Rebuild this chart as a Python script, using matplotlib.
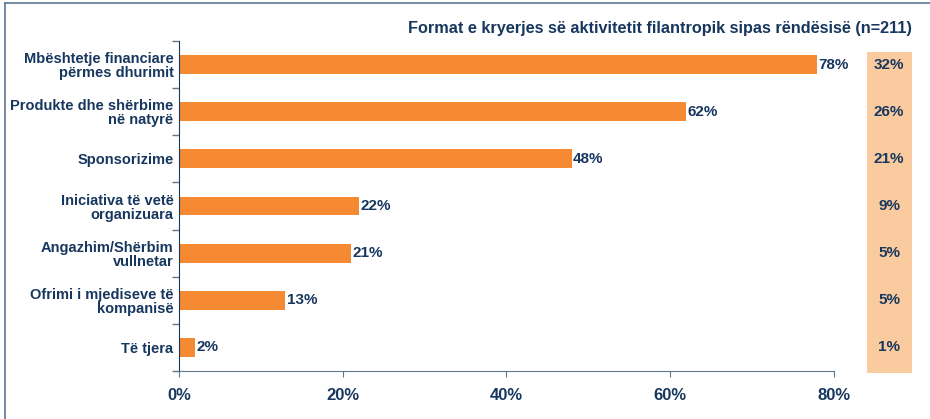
import matplotlib.pyplot as plt
from matplotlib.lines import Line2D
from matplotlib.patches import Rectangle
import matplotlib.transforms as mtransforms

plt.rcParams['font.family'] = ['Liberation Sans', 'DejaVu Sans']

# data
categories = [
    "Mbështetje financiare\npërmes dhurimit",
    "Produkte dhe shërbime\nnë natyrë",
    "Sponsorizime",
    "Iniciativa të vetë\norganizuara",
    "Angazhim/Shërbim\nvullnetar",
    "Ofrimi i mjediseve të\nkompanisë",
    "Të tjera",
]
share = [78, 62, 48, 22, 21, 13, 2]
importance = [32, 26, 21, 9, 5, 5, 1]
x_ticks = [0, 20, 40, 60, 80]
title = "Format e kryerjes së aktivitetit filantropik sipas rëndësisë (n=211)"

navy = "#17375E"
orange = "#F58A33"
peach = "#FBCBA0"
frame = "#5F7793"

fig = plt.figure(figsize=(9.3, 4.19), dpi=100)
ax = fig.add_axes([0.1925, 0.1146, 0.704, 0.7875])

y = list(range(len(categories)))
ax.barh(y, share, height=0.4, color=orange)
ax.set_ylim(len(categories) - 0.5, -0.5)
ax.set_xlim(0, 80)

for yi, v in zip(y, share):
    ax.text(v + 0.15, yi, f"{v}%", va="center", ha="left",
            fontsize=11, fontweight="bold", color=navy)

ax.set_yticks(y)
ax.set_yticklabels(categories, fontsize=10.5, fontweight="bold", color=navy,
                   linespacing=1.0)
ax.tick_params(axis="y", length=0, pad=4)
ax.set_yticks([i - 0.5 for i in range(len(categories) + 1)], minor=True)
ax.tick_params(axis="y", which="minor", length=5, color=frame, width=1)

ax.set_xticks(x_ticks)
ax.set_xticklabels([f"{t}%" for t in x_ticks], fontsize=12, fontweight="bold",
                   color=navy)
ax.tick_params(axis="x", length=4, color=frame, pad=8)

for s in ["top", "right"]:
    ax.spines[s].set_visible(False)
ax.spines["left"].set_color(navy)
ax.spines["bottom"].set_color(frame)

# right column of importance values
trans = mtransforms.blended_transform_factory(ax.transAxes, ax.transData)
ax.add_patch(Rectangle((1.051, -0.005), 0.068, 0.9726, transform=ax.transAxes,
                       facecolor=peach, edgecolor="none", clip_on=False))
for yi, v in zip(y, importance):
    ax.text(1.0846, yi, f"{v}%", transform=trans, va="center", ha="center",
            fontsize=11, fontweight="bold", color=navy, clip_on=False)

fig.text(912 / 930, 1 - 29 / 419, title, ha="right", va="center",
         fontsize=11.7, fontweight="bold", color=navy)

# outer frame
fig.add_artist(Line2D([5 / 930, 1], [1 - 3 / 419, 1 - 3 / 419],
                      transform=fig.transFigure, color=frame, lw=1.2))
fig.add_artist(Line2D([5 / 930, 5 / 930], [0, 1 - 3 / 419],
                      transform=fig.transFigure, color=frame, lw=1.2))

fig.savefig("out.png", dpi=100)
